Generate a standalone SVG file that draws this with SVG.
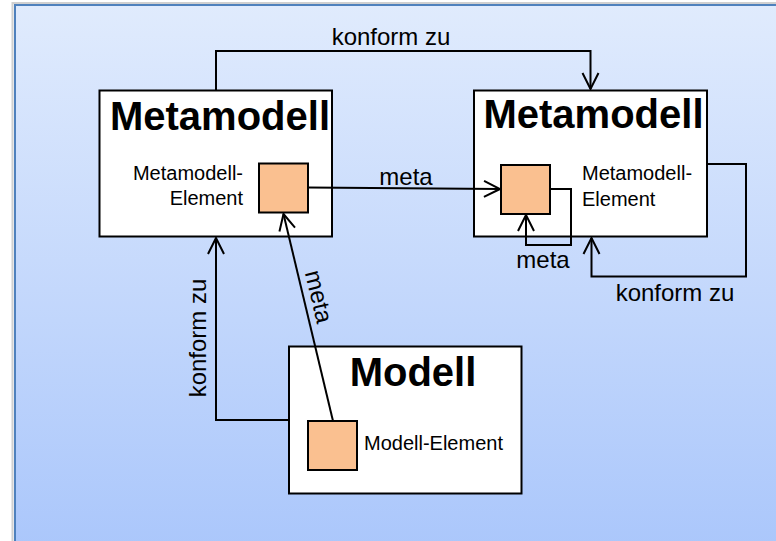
<svg xmlns="http://www.w3.org/2000/svg" width="776" height="541" viewBox="0 0 776 541">
  <style>
    .box { fill: #ffffff; stroke: #000000; stroke-width: 2; }
    .elem { fill: #fac090; stroke: #000000; stroke-width: 2; }
    .title { font-family: "Liberation Sans", Arial, sans-serif; font-weight: bold; font-size: 40px; fill: #000000; }
    .small { font-family: "Liberation Sans", Arial, sans-serif; font-size: 20px; fill: #000000; }
    .label { font-family: "Liberation Sans", Arial, sans-serif; font-size: 24px; fill: #000000; }
    .conn { fill: none; stroke: #000000; stroke-width: 2; }
  </style>
  <defs>
    <linearGradient id="bg" x1="0" y1="0" x2="0" y2="1">
      <stop offset="0" stop-color="#e0ebfd"/>
      <stop offset="1" stop-color="#a5c3fb"/>
    </linearGradient>
    <marker id="open" viewBox="-18 -10 20 20" refX="0" refY="0" markerWidth="20" markerHeight="20" markerUnits="userSpaceOnUse" orient="auto">
      <path d="M-16,-8 L0,0 L-16,8" fill="none" stroke="#000000" stroke-width="2"/>
    </marker>
  </defs>

  <!-- canvas -->
  <rect x="0" y="0" width="776" height="541" fill="#ffffff"/>
  <rect x="12.5" y="3" width="800" height="600" fill="none" stroke="#d0d0d0" stroke-width="2"/>
  <rect x="15" y="5" width="800" height="600" fill="url(#bg)" stroke="#4f81bd" stroke-width="2"/>

  <!-- upper left metamodel -->
  <g id="metamodell-left">
    <rect class="box" x="99.5" y="90.5" width="232.5" height="146"/>
    <text class="title" x="220" y="130" text-anchor="middle">Metamodell</text>
    <text class="small" x="243" y="180" text-anchor="end">Metamodell-</text>
    <text class="small" x="243" y="205" text-anchor="end">Element</text>
    <rect class="elem" x="259" y="163.5" width="49" height="49"/>
  </g>

  <!-- upper right metamodel -->
  <g id="metamodell-right">
    <rect class="box" x="474" y="90.5" width="233" height="146"/>
    <text class="title" x="593.5" y="127.5" text-anchor="middle">Metamodell</text>
    <text class="small" x="582" y="180">Metamodell-</text>
    <text class="small" x="582" y="205.5">Element</text>
    <rect class="elem" x="501" y="165" width="49" height="49"/>
  </g>

  <!-- model -->
  <g id="modell">
    <rect class="box" x="289" y="346.5" width="232.5" height="147"/>
    <text class="title" x="413" y="386" text-anchor="middle">Modell</text>
    <rect class="elem" x="308" y="421" width="49" height="49"/>
    <text class="small" x="364" y="450">Modell-Element</text>
  </g>

  <!-- connectors, drawn on top of the boxes -->
  <g id="connectors">
    <path class="conn" d="M216,90 V51 H590.5 V89" marker-end="url(#open)"/>
    <path class="conn" d="M308,187.5 L500,189" marker-end="url(#open)"/>
    <path class="conn" d="M550,189 H571 V245 H526 V215" marker-end="url(#open)"/>
    <path class="conn" d="M707,164 H746 V276.5 H591.5 V238" marker-end="url(#open)"/>
    <path class="conn" d="M289,420 H216 V238" marker-end="url(#open)"/>
    <path class="conn" d="M333,421 L283.5,214" marker-end="url(#open)"/>
    <text class="label" x="391" y="45" text-anchor="middle">konform zu</text>
    <text class="label" x="406" y="185" text-anchor="middle">meta</text>
    <text class="label" x="543" y="268" text-anchor="middle">meta</text>
    <text class="label" x="675" y="300.5" text-anchor="middle">konform zu</text>
    <text class="label" text-anchor="middle" transform="translate(206,338) rotate(-90)">konform zu</text>
    <text class="label" text-anchor="middle" transform="translate(311,298.5) rotate(76.5)">meta</text>
  </g>
</svg>
